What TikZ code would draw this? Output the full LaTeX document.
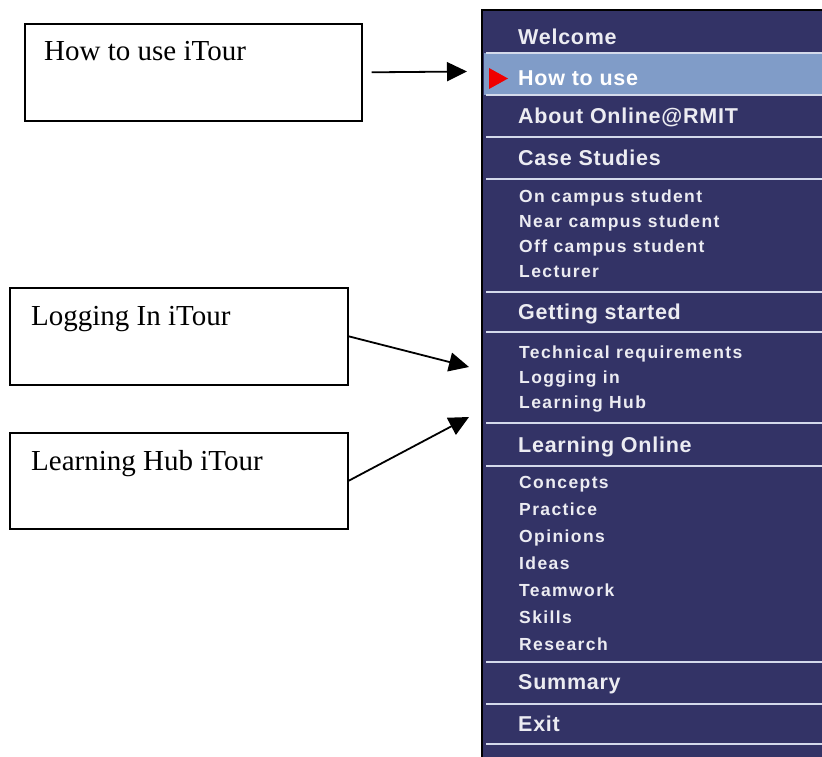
\documentclass[tikz,border=0pt]{standalone}
\usepackage{fontspec}
\setmainfont{Liberation Serif}
\newfontfamily\menuheadfont{Liberation Sans}[LetterSpace=3.5]
\newfontfamily\menuitemfont{Liberation Sans}[LetterSpace=8]
\usetikzlibrary{arrows.meta}

\definecolor{panelblue}{RGB}{51,51,102}
\definecolor{bandblue}{RGB}{128,156,200}
\definecolor{sepline}{RGB}{212,218,235}
\definecolor{menutext}{RGB}{236,236,242}
\definecolor{markred}{RGB}{240,0,0}

\begin{document}
\begin{tikzpicture}[x=1pt,y=-1pt,
  tourbox/.style={draw=black, line width=1.6pt, rectangle, inner sep=0pt,
    anchor=north west},
  boxlabel/.style={inner sep=0pt, anchor=base west,
    font=\fontsize{29pt}{32pt}\selectfont},
  tourarrow/.style={draw=black, line width=1.8pt,
    -{Triangle[length=20pt,width=19pt]}},
  headitem/.style={inner sep=0pt, anchor=base west, text=menutext,
    font=\menuheadfont\bfseries\fontsize{21.5pt}{24pt}\selectfont},
  subitem/.style={inner sep=0pt, anchor=base west, text=menutext,
    font=\menuitemfont\bfseries\fontsize{17.5pt}{20pt}\selectfont},
  separator/.style={draw=sepline, line width=2pt},
]
\useasboundingbox (0,0) rectangle (822,757);

% --- menu panel ---
\fill[panelblue] (482,10) rectangle (822,757);
\fill[bandblue] (484,53) rectangle (822,95);
\draw[black, line width=2pt] (482,757) -- (482,10) -- (822,10);
\foreach \yy in {53,95,137,179,292,332,423,466,662,704,744}
  \draw[separator] (486,\yy) -- (822,\yy);

% current-page marker
\fill[markred] (489,68) -- (508,78.5) -- (489,89) -- cycle;

% section headings
\node[headitem] (m-welcome) at (518,45) {Welcome};
\node[headitem, text=white] (m-howto) at (518,86) {How to use};
\node[headitem] (m-about) at (518,124) {About Online@RMIT};
\node[headitem] (m-case) at (518,165) {Case Studies};
\node[headitem] (m-started) at (518,319) {Getting started};
\node[headitem] (m-online) at (518,452) {Learning Online};
\node[headitem] (m-summary) at (518,689) {Summary};
\node[headitem] (m-exit) at (518,731) {Exit};

% sub-items
\node[subitem] (s-oncampus) at (519,202) {On campus student};
\node[subitem] (s-near) at (519,227) {Near campus student};
\node[subitem] (s-off) at (519,252) {Off campus student};
\node[subitem] (s-lect) at (519,277) {Lecturer};
\node[subitem] (s-tech) at (519,358) {Technical requirements};
\node[subitem] (s-login) at (519,383) {Logging in};
\node[subitem] (s-hub) at (519,408) {Learning Hub};
\node[subitem] (s-concepts) at (519,488) {Concepts};
\node[subitem] (s-practice) at (519,515) {Practice};
\node[subitem] (s-opinions) at (519,542) {Opinions};
\node[subitem] (s-ideas) at (519,569) {Ideas};
\node[subitem] (s-team) at (519,596) {Teamwork};
\node[subitem] (s-skills) at (519,623) {Skills};
\node[subitem] (s-research) at (519,650) {Research};

% --- iTour boxes ---
\node[tourbox, minimum width=337pt, minimum height=97pt] (b-howto) at (24,23) {};
\node[boxlabel] (l-howto) at (44,61) {How to use iTour};

\node[tourbox, minimum width=338pt, minimum height=97pt] (b-login) at (9,287) {};
\node[boxlabel] (l-login) at (31,325) {Logging In iTour};

\node[tourbox, minimum width=338pt, minimum height=96pt] (b-hub) at (9,432) {};
\node[boxlabel] (l-hub) at (31,470) {Learning Hub iTour};

% arrow targets beside the menu
\coordinate (t-howto) at (467,71.5);
\coordinate (t-login) at (469,367);
\coordinate (t-hub) at (469,417);

\draw[tourarrow] ([xshift=9pt]b-howto.east) -- (t-howto);
\draw[tourarrow] (b-login.east) -- (t-login);
\draw[tourarrow] (b-hub.east) -- (t-hub);
\end{tikzpicture}
\end{document}
